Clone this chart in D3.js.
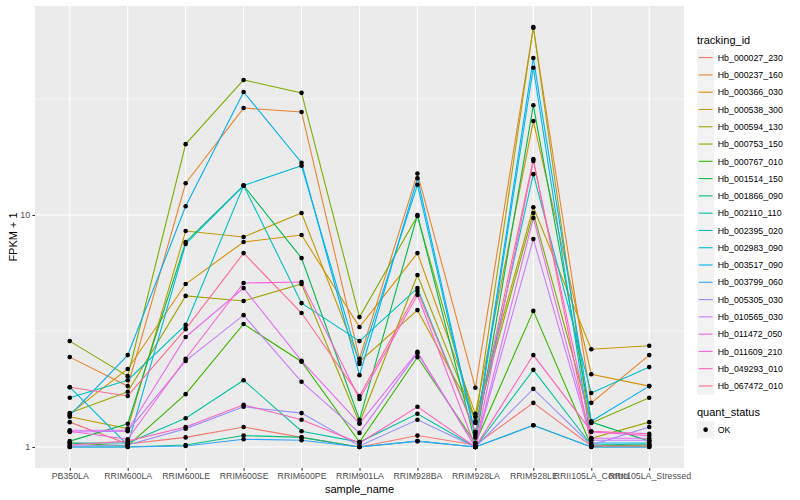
<!DOCTYPE html>
<html>
<head>
<meta charset="utf-8">
<script src="https://cdn.jsdelivr.net/npm/d3@7"></script>
<style>
body { margin: 0; background: #fff; }
text { font-family: "Liberation Sans", Arial, sans-serif; }
</style>
</head>
<body>
<div id="chart"></div>
<script>

let samples = ["PB350LA", "RRIM600LA", "RRIM600LE", "RRIM600SE", "RRIM600PE", "RRIM901LA",
  "RRIM928BA", "RRIM928LA", "RRIM928LE", "RRII105LA_Control", "RRII105LA_Stressed"];

let trackingIds = ["Hb_000027_230", "Hb_000237_160", "Hb_000366_030", "Hb_000538_300", "Hb_000594_130",
  "Hb_000753_150", "Hb_000767_010", "Hb_001514_150", "Hb_001866_090", "Hb_002110_110",
  "Hb_002395_020", "Hb_002983_090", "Hb_003517_090", "Hb_003799_060", "Hb_005305_030",
  "Hb_010565_030", "Hb_011472_050", "Hb_011609_210", "Hb_049293_010", "Hb_067472_010"];

let quantStatus = ["OK"];

// FPKM + 1 per sample, one array per tracking_id
let hb_000027_230 = [1.28, 1.03, 1.10, 1.22, 1.10, 1.00, 1.12, 1.02, 1.55, 1.01, 1.01];
let hb_000237_160 = [2.44, 1.83, 13.7, 28.9, 27.8, 2.40, 15.1, 1.80, 64.1, 1.55, 2.49];
let hb_000366_030 = [1.39, 2.17, 5.04, 7.65, 8.20, 3.29, 6.85, 1.39, 25.4, 2.06, 1.83];
let hb_000538_300 = [1.35, 1.20, 8.53, 8.04, 10.2, 2.33, 3.89, 1.35, 10.8, 2.64, 2.73];
let hb_000594_130 = [1.40, 1.73, 4.48, 4.26, 5.04, 1.27, 5.51, 1.29, 64.6, 1.09, 1.28];
let hb_000753_150 = [2.86, 2.02, 20.2, 38.2, 33.6, 3.63, 9.90, 1.27, 10.2, 1.27, 1.63];
let hb_000767_010 = [1.04, 1.01, 1.69, 3.39, 2.33, 1.05, 2.44, 1.04, 3.86, 1.01, 1.02];
let hb_001514_150 = [1.06, 1.26, 7.65, 13.4, 6.52, 1.31, 10.0, 1.04, 29.7, 1.28, 1.06];
let hb_001866_090 = [1.00, 1.00, 1.02, 1.12, 1.10, 1.00, 1.06, 1.00, 1.24, 1.00, 1.00];
let hb_002110_110 = [1.04, 1.04, 1.33, 1.94, 1.17, 1.05, 1.39, 1.00, 2.15, 1.02, 1.03];
let hb_002395_020 = [1.63, 1.94, 3.36, 13.4, 4.17, 2.86, 4.84, 1.16, 15.0, 1.71, 2.21];
let hb_002983_090 = [1.81, 1.02, 7.50, 13.4, 16.3, 2.28, 13.5, 1.10, 43.1, 1.04, 1.04];
let hb_003517_090 = [1.37, 2.49, 10.9, 33.9, 16.8, 2.04, 14.4, 1.13, 47.5, 1.29, 1.83];
let hb_003799_060 = [1.00, 1.00, 1.01, 1.08, 1.07, 1.00, 1.06, 1.00, 1.24, 1.00, 1.00];
let hb_005305_030 = [1.01, 1.02, 1.20, 1.49, 1.40, 1.01, 1.31, 1.00, 1.78, 1.02, 1.22];
let hb_010565_030 = [1.16, 1.17, 2.35, 3.70, 1.91, 1.15, 2.54, 1.00, 7.87, 1.07, 1.07];
let hb_011472_050 = [1.18, 1.18, 2.98, 4.84, 2.35, 1.26, 2.57, 1.00, 9.70, 1.09, 1.09];
let hb_011609_210 = [1.17, 1.08, 2.40, 5.09, 5.14, 1.61, 4.52, 1.00, 17.1, 1.16, 1.12];
let hb_049293_010 = [1.02, 1.06, 1.22, 1.52, 1.31, 1.04, 1.49, 1.00, 2.49, 1.17, 1.14];
let hb_067472_010 = [1.81, 1.66, 3.22, 6.85, 3.78, 1.66, 4.70, 1.16, 17.4, 1.01, 1.01];

let seriesValues = [hb_000027_230, hb_000237_160, hb_000366_030, hb_000538_300, hb_000594_130,
  hb_000753_150, hb_000767_010, hb_001514_150, hb_001866_090, hb_002110_110,
  hb_002395_020, hb_002983_090, hb_003517_090, hb_003799_060, hb_005305_030,
  hb_010565_030, hb_011472_050, hb_011609_210, hb_049293_010, hb_067472_010];

// ggplot default hue palette for 20 levels
let palette = ["#F8766D", "#EA8331", "#D89000", "#C09B00", "#A3A500", "#7CAE00", "#39B600", "#00BB4E",
  "#00BF7D", "#00C1A3", "#00BFC4", "#00BAE0", "#00B0F6", "#35A2FF", "#9590FF", "#C77CFF",
  "#E76BF3", "#FA62DB", "#FF62BC", "#FF6C91"];

let margin = {top: 6, right: 116, bottom: 32, left: 35},
    width = 800 - margin.left - margin.right,
    height = 500 - margin.top - margin.bottom;

let data = trackingIds.map(function(id, i) {
  return {
    id: id,
    values: samples.map(function(s, j) { return {sample: s, v: seriesValues[i][j]}; })
  };
});

let root = d3.select("#chart")
  .append("svg")
    .attr("width", 800)
    .attr("height", 500);

root.append("rect")
  .attr("width", 800).attr("height", 500).attr("fill", "#fff");

const svg = root.append("g")
    .attr("transform", "translate(" + margin.left + "," + margin.top + ")");

// scales
let x = d3.scalePoint()
  .domain(samples)
  .range([0, width])
  .padding(0.6);

let allV = d3.merge(seriesValues);
let lo = Math.log10(d3.min(allV)), hi = Math.log10(d3.max(allV));
let pad = (hi - lo) * 0.05;
let y = d3.scaleLog()
  .domain([Math.pow(10, lo - pad), Math.pow(10, hi + pad)])
  .range([height, 0]);

let color = d3.scaleOrdinal().domain(trackingIds).range(palette);

// panel + grid
svg.append("rect")
  .attr("width", width)
  .attr("height", height)
  .attr("fill", "#EBEBEB");

svg.selectAll("minorgrid")
  .data([Math.pow(10, 0.5), Math.pow(10, 1.5)])
  .enter()
  .append("line")
    .attr("x1", 0).attr("x2", width)
    .attr("y1", function(d) { return y(d); })
    .attr("y2", function(d) { return y(d); })
    .attr("stroke", "#fff")
    .attr("stroke-width", 0.53);

svg.selectAll("majorgrid")
  .data([1, 10])
  .enter()
  .append("line")
    .attr("x1", 0).attr("x2", width)
    .attr("y1", function(d) { return y(d); })
    .attr("y2", function(d) { return y(d); })
    .attr("stroke", "#fff")
    .attr("stroke-width", 1.07);

svg.selectAll("xgrid")
  .data(samples)
  .enter()
  .append("line")
    .attr("x1", function(d) { return x(d); })
    .attr("x2", function(d) { return x(d); })
    .attr("y1", 0).attr("y2", height)
    .attr("stroke", "#fff")
    .attr("stroke-width", 1.07);

// Lines
let line = d3.line()
  .x(function(d) { return x(d.sample); })
  .y(function(d) { return y(d.v); });

svg.selectAll("myline")
  .data(data)
  .enter()
  .append("path")
    .attr("d", function(d) { return line(d.values); })
    .attr("fill", "none")
    .attr("stroke", function(d) { return color(d.id); })
    .attr("stroke-width", 1.1);

// Points
svg.selectAll("mypoint")
  .data(d3.merge(data.map(function(d) { return d.values; })))
  .enter()
  .append("circle")
    .attr("cx", function(d) { return x(d.sample); })
    .attr("cy", function(d) { return y(d.v); })
    .attr("r", 2.3)
    .style("fill", "#000");

// X axis
let xAxis = svg.append("g")
  .attr("transform", "translate(0," + height + ")")
  .call(d3.axisBottom(x).tickSize(2.7).tickPadding(2.2));

// Y axis
let yAxis = svg.append("g")
  .call(d3.axisLeft(y).tickValues([1, 10]).tickFormat(d3.format("d")).tickSize(2.7).tickPadding(2.2));

[xAxis, yAxis].forEach(function(a) {
  a.select(".domain").remove();
  a.selectAll(".tick line").attr("stroke", "#333333").attr("stroke-width", 1.07);
  a.selectAll(".tick text")
    .attr("fill", "#4D4D4D")
    .style("font-size", "8.8px")
    .style("font-family", "'Liberation Sans', Arial, sans-serif");
});

// axis titles
root.append("text")
  .attr("x", margin.left + width / 2)
  .attr("y", 493)
  .attr("text-anchor", "middle")
  .style("font-size", "11px")
  .text("sample_name");

root.append("text")
  .attr("transform", "translate(17," + (margin.top + height / 2) + ")rotate(-90)")
  .attr("text-anchor", "middle")
  .style("font-size", "11px")
  .text("FPKM + 1");

// Legend
let key = 17.28;
let legend = root.append("g")
  .attr("transform", "translate(697,0)");

legend.append("text")
  .attr("x", 0).attr("y", 44)
  .style("font-size", "11px")
  .text("tracking_id");

let items = legend.selectAll("item")
  .data(trackingIds)
  .enter()
  .append("g")
    .attr("transform", function(d, i) { return "translate(0," + (49 + i * key) + ")"; });

items.append("rect")
  .attr("width", key).attr("height", key)
  .attr("fill", "#F2F2F2");

items.append("line")
  .attr("x1", 1.7).attr("x2", key - 1.7)
  .attr("y1", key / 2).attr("y2", key / 2)
  .attr("stroke", function(d) { return color(d); })
  .attr("stroke-width", 1.1);

items.append("text")
  .attr("x", key + 3.5)
  .attr("y", key / 2 + 3.2)
  .style("font-size", "8.8px")
  .text(function(d) { return d; });

legend.append("text")
  .attr("x", 0).attr("y", 416)
  .style("font-size", "11px")
  .text("quant_status");

let status = legend.selectAll("status")
  .data(quantStatus)
  .enter()
  .append("g")
    .attr("transform", function(d, i) { return "translate(0," + (421 + i * key) + ")"; });

status.append("rect")
  .attr("width", key).attr("height", key)
  .attr("fill", "#F2F2F2");

status.append("circle")
  .attr("cx", key / 2).attr("cy", key / 2)
  .attr("r", 2.3)
  .style("fill", "#000");

status.append("text")
  .attr("x", key + 3.5)
  .attr("y", key / 2 + 3.2)
  .style("font-size", "8.8px")
  .text(function(d) { return d; });

</script>
</body>
</html>
